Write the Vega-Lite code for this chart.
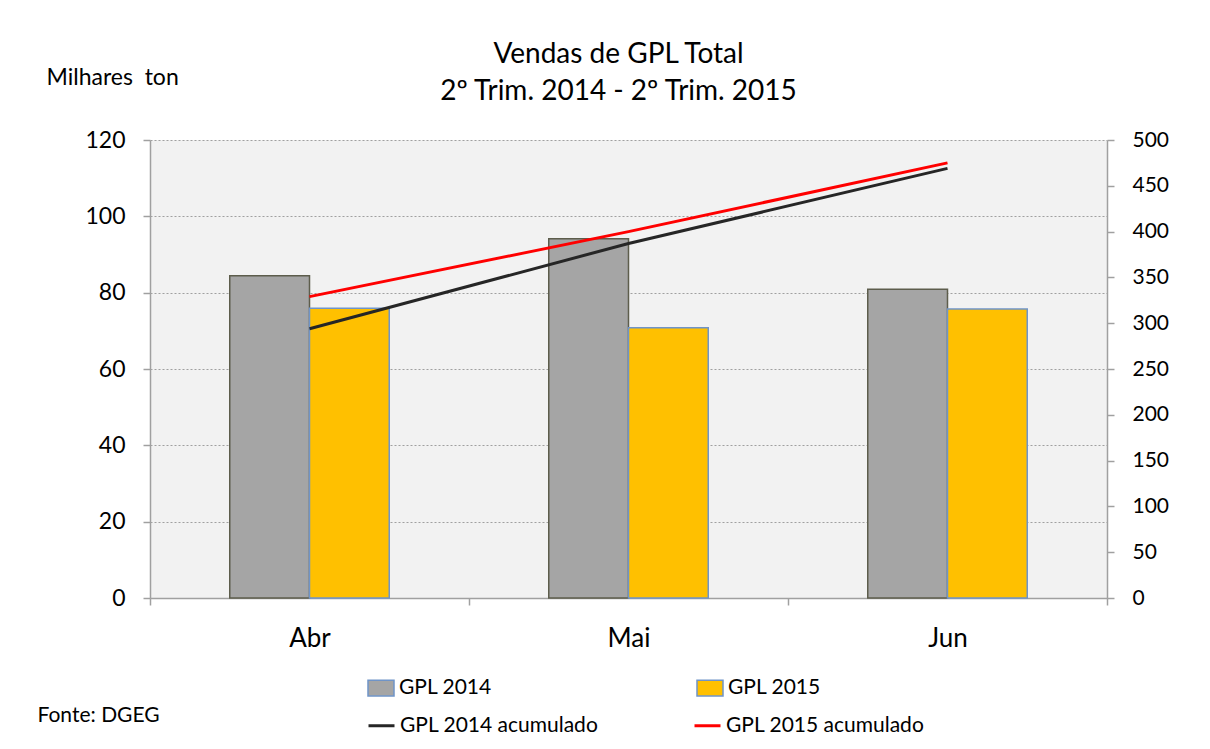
{
  "$schema": "https://vega.github.io/schema/vega-lite/v6.json",
  "width": 957,
  "height": 458,
  "autosize": {"type": "none"},
  "padding": {"left": 150, "top": 140, "right": 103, "bottom": 151},
  "background": "white",
  "title": {
    "text": ["Vendas de GPL Total", "2º Trim. 2014 - 2º Trim. 2015"],
    "font": "Lato",
    "fontSize": 28,
    "fontWeight": "normal",
    "color": "#000000",
    "anchor": "middle",
    "baseline": "alphabetic",
    "lineHeight": 37,
    "offset": 32,
    "dx": -10,
    "dy": 94
  },
  "data": {
    "values": [
      {"mes": "Abr", "serie": "GPL 2014", "vendas": 84.4, "acumulado": 294},
      {"mes": "Abr", "serie": "GPL 2015", "vendas": 75.9, "acumulado": 329},
      {"mes": "Mai", "serie": "GPL 2014", "vendas": 94.1, "acumulado": 387},
      {"mes": "Mai", "serie": "GPL 2015", "vendas": 70.8, "acumulado": 400},
      {"mes": "Jun", "serie": "GPL 2014", "vendas": 80.9, "acumulado": 469},
      {"mes": "Jun", "serie": "GPL 2015", "vendas": 75.7, "acumulado": 475}
    ]
  },
  "layer": [
    {
      "mark": {"type": "bar", "strokeWidth": 1.5},
      "encoding": {
        "x": {
          "field": "mes",
          "type": "nominal",
          "sort": ["Abr", "Mai", "Jun"],
          "scale": {"paddingInner": 0, "paddingOuter": 0},
          "axis": {
            "tickBand": "extent",
            "labelAngle": 0,
            "labelFont": "Lato",
            "labelFontSize": 26,
            "labelColor": "#000000",
            "labelPadding": 20,
            "labelBaseline": "top",
            "domainColor": "#a0a0a0",
            "domainWidth": 1.5,
            "tickColor": "#a0a0a0",
            "tickWidth": 1.5,
            "tickSize": 7,
            "grid": false,
            "title": "Fonte: DGEG",
            "titleFont": "Lato",
            "titleFontSize": 21,
            "titleFontWeight": "normal",
            "titleColor": "#000000",
            "titleX": -113,
            "titleY": 117,
            "titleAlign": "left",
            "titleBaseline": "middle",
            "titleAngle": 0
          }
        },
        "xOffset": {
          "field": "serie",
          "type": "nominal",
          "scale": {"paddingInner": 0, "paddingOuter": 1}
        },
        "y": {
          "field": "vendas",
          "type": "quantitative",
          "scale": {"domain": [0, 120], "nice": false},
          "axis": {
            "values": [0, 20, 40, 60, 80, 100, 120],
            "grid": true,
            "gridColor": "#a0a0a0",
            "gridDash": [2, 2],
            "gridWidth": 1,
            "domainColor": "#a0a0a0",
            "domainWidth": 1.5,
            "tickColor": "#a0a0a0",
            "tickWidth": 1.5,
            "tickSize": 7,
            "labelFont": "Lato",
            "labelFontSize": 23,
            "labelColor": "#000000",
            "labelPadding": 18,
            "title": "Milhares\u00a0\u00a0ton",
            "titleFont": "Lato",
            "titleFontSize": 23,
            "titleFontWeight": "normal",
            "titleColor": "#000000",
            "titleAngle": 0,
            "titleX": -104,
            "titleY": -63,
            "titleAlign": "left",
            "titleBaseline": "middle"
          }
        },
        "fill": {
          "field": "serie",
          "type": "nominal",
          "scale": {"domain": ["GPL 2014", "GPL 2015"], "range": ["#a5a5a5", "#ffc000"]},
          "legend": {
            "title": null,
            "orient": "none",
            "legendX": 217,
            "legendY": 534,
            "direction": "horizontal",
            "columns": 2,
            "columnPadding": 202,
            "padding": 0,
            "symbolType": "M-1,-0.6H1V0.6H-1Z",
            "symbolSize": 676,
            "symbolStrokeWidth": 1.5,
            "symbolOpacity": 1,
            "labelFont": "Lato",
            "labelFontSize": 21,
            "labelColor": "#000000",
            "labelOffset": 4,
            "labelLimit": 400,
            "encode": {
              "symbols": {
                "update": {
                  "stroke": {"signal": "datum.label === 'GPL 2014' ? '#5d5d4c' : '#6f94c8'"}
                }
              }
            }
          }
        },
        "stroke": {
          "condition": {"test": "datum.serie === 'GPL 2014'", "value": "#5d5d4c"},
          "value": "#6f94c8"
        }
      }
    },
    {
      "mark": {"type": "line", "strokeWidth": 3},
      "encoding": {
        "x": {"field": "mes", "type": "nominal", "sort": ["Abr", "Mai", "Jun"]},
        "y": {
          "field": "acumulado",
          "type": "quantitative",
          "scale": {"domain": [0, 500], "nice": false},
          "axis": {
            "orient": "right",
            "values": [0, 50, 100, 150, 200, 250, 300, 350, 400, 450, 500],
            "grid": false,
            "domainColor": "#a0a0a0",
            "domainWidth": 1.5,
            "tickColor": "#a0a0a0",
            "tickWidth": 1.5,
            "tickSize": 7,
            "labelFont": "Lato",
            "labelFontSize": 21,
            "labelColor": "#000000",
            "labelPadding": 18,
            "title": null
          }
        },
        "stroke": {
          "field": "serie",
          "type": "nominal",
          "scale": {"domain": ["GPL 2014", "GPL 2015"], "range": ["#262626", "#ff0000"]},
          "legend": {
            "title": null,
            "orient": "none",
            "legendX": 217,
            "legendY": 571,
            "direction": "horizontal",
            "columns": 2,
            "columnPadding": 89,
            "padding": 0,
            "symbolType": "stroke",
            "symbolSize": 676,
            "symbolStrokeWidth": 3,
            "labelFont": "Lato",
            "labelFontSize": 21,
            "labelColor": "#000000",
            "labelOffset": 4,
            "labelLimit": 400,
            "labelExpr": "datum.label + ' acumulado'"
          }
        }
      }
    }
  ],
  "resolve": {"scale": {"y": "independent", "stroke": "independent"}},
  "config": {
    "view": {"stroke": null, "fill": "#f2f2f2"},
    "font": "Lato"
  }
}
